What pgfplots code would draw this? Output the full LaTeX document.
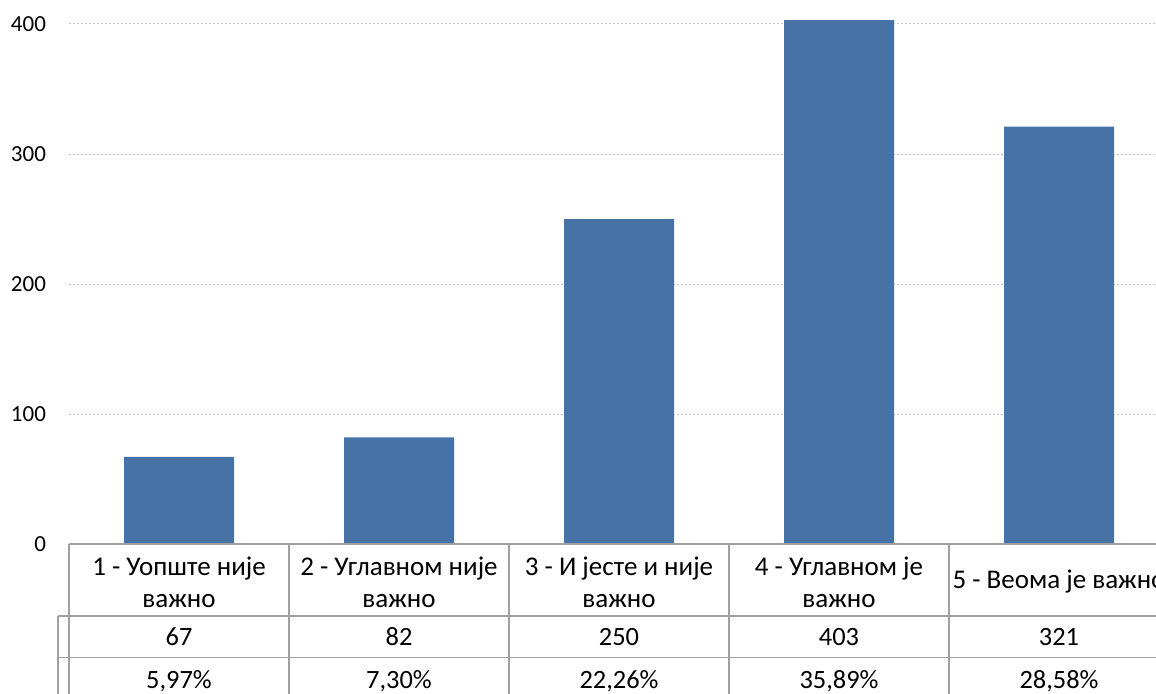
\documentclass[border=0pt]{standalone}
\usepackage{pgfplots}
\pgfplotsset{compat=1.18}
\usepackage{pgfplotstable}
\usepackage{fontspec}
\setmainfont{Carlito}

\definecolor{barblue}{HTML}{4672A6}
\definecolor{rulegray}{HTML}{A0A0A0}
\definecolor{gridgray}{HTML}{C4C4C4}

% responses per answer: count and share of total (in %)
\pgfplotstableread{
idx n pct
0 67 5,97
1 82 7,30
2 250 22,26
3 403 35,89
4 321 28,58
}\answers

\newcommand{\tickfont}{\fontsize{11.5}{14}\selectfont}
\newcommand{\headfont}{\fontsize{13.5}{16}\selectfont}
\newcommand{\cellfont}{\fontsize{13.2}{16}\selectfont}

\begin{document}
\begin{tikzpicture}
\begin{axis}[
  scale only axis,
  width=550pt, height=272pt,
  xmin=-0.5, xmax=4.5,
  ymin=0, ymax=418.46,
  clip=false,
  axis line style={draw=none},
  major tick length=0pt,
  xtick={0,1,2,3,4},
  xticklabels={{1 - Уопште није\\важно},{2 - Углавном није\\важно},{3 - И јесте и није\\важно},{4 - Углавном је\\важно},{5 - Веома је важно}},
  xticklabel style={anchor=center, yshift=-19pt, align=center, font=\headfont},
  ytick={0,100,200,300,400},
  yticklabel style={anchor=east, xshift=-8pt, font=\tickfont},
  /pgf/number format/assume math mode=true,
  ymajorgrids,
  major grid style={gridgray, line width=0.5pt, dash pattern=on 1pt off 1pt},
]
\coordinate (O) at (rel axis cs:0,0);

\addplot[ybar, bar width=0.5, fill=barblue, draw=none] table[x=idx, y=n]{\answers};

% data table rows: counts and percentages
\addplot[draw=none, mark=none, point meta=explicit symbolic,
  nodes near coords,
  every node near coord/.append style={anchor=base, inner sep=0pt, font=\cellfont, text=black}]
  table[x=idx, y expr=-78.2, meta=n]{\answers};
\addplot[draw=none, mark=none, point meta=explicit symbolic,
  nodes near coords={\pgfplotspointmeta\%},
  every node near coord/.append style={anchor=base, inner sep=0pt, font=\cellfont, text=black}]
  table[x=idx, y expr=-111.2, meta=pct]{\answers};

% table rules
\draw[rulegray, line width=0.75pt] (axis cs:-0.5,0) -- (axis cs:4.5,0);
\draw[rulegray, line width=0.75pt] (axis cs:-0.55,-55.38) -- (axis cs:4.5,-55.38);
\draw[rulegray, line width=0.75pt] (axis cs:-0.55,-87.3) -- (axis cs:4.5,-87.3);
\draw[rulegray, line width=0.75pt] (axis cs:-0.55,-55.38) -- (axis cs:-0.55,-130);
\pgfplotsinvokeforeach{-0.5,0.5,1.5,2.5,3.5,4.5}{
  \draw[rulegray, line width=0.75pt] (axis cs:#1,0) -- (axis cs:#1,-130);
}
\end{axis}
\pgfresetboundingbox
\path[use as bounding box] ([xshift=-34.5pt,yshift=-74.5pt]O) rectangle ([xshift=543.5pt,yshift=272pt]O);
\end{tikzpicture}
\end{document}
